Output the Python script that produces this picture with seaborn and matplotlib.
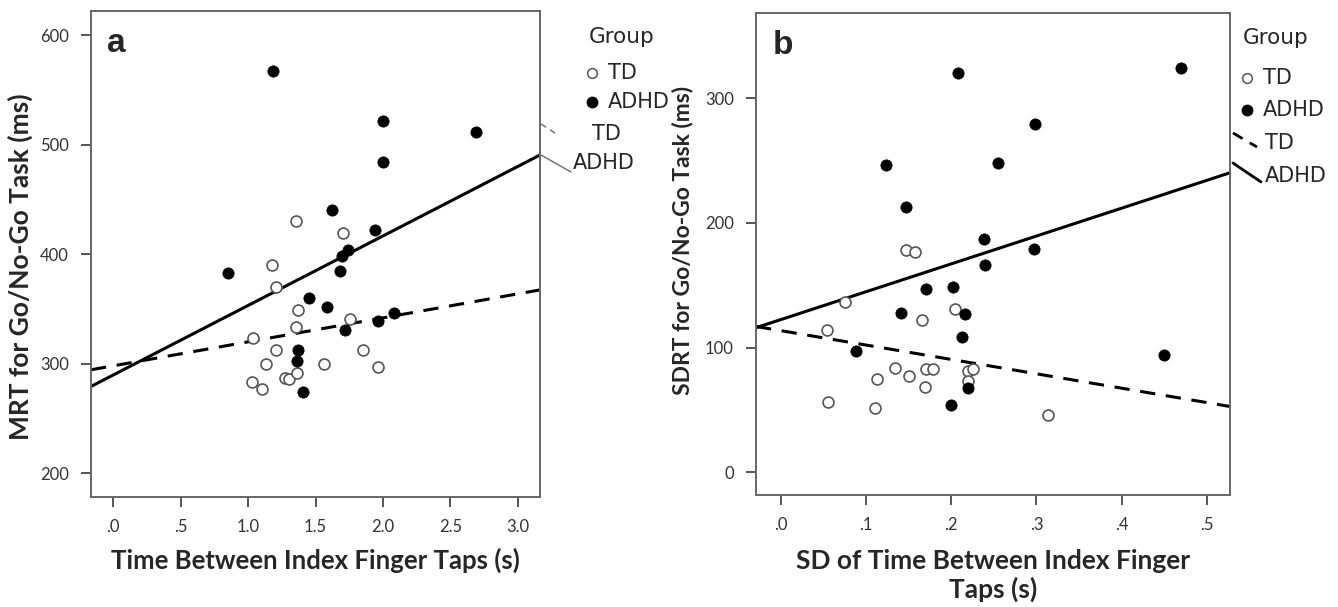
import numpy as np
import pandas as pd
import matplotlib
matplotlib.use('Agg')
import matplotlib.pyplot as plt
import seaborn as sns

# panel a: mean reaction time vs inter-tap interval
a_td_x = [1.04, 1.03, 1.105, 1.13, 1.175, 1.205, 1.205, 1.275, 1.30, 1.355, 1.36, 1.355, 1.37, 1.565, 1.706, 1.756, 1.85, 1.96]
a_td_y = [323.5, 283.7, 277.3, 300, 390, 370, 312.5, 287.4, 286, 430.6, 291.6, 333.5, 348.7, 300, 419, 340.6, 312.6, 297.4]
a_adhd_x = [0.849, 1.187, 1.373, 1.363, 1.407, 1.449, 1.588, 1.625, 1.682, 1.70, 1.744, 1.719, 1.94, 1.961, 2.003, 2.003, 2.085, 2.69]
a_adhd_y = [383, 567.4, 312.8, 302.6, 274.3, 359.6, 351.7, 440.3, 384.4, 398, 404, 330.8, 422, 339, 521.8, 484.1, 346.4, 511.8]
a_fit_x = [-0.165, 3.165]
a_fit_td = [294.5, 367.4]
a_fit_adhd = [279.3, 490.5]

# panel b: SD of reaction time vs SD of inter-tap interval
b_td_x = [0.1467, 0.1576, 0.0758, 0.2046, 0.1662, 0.0547, 0.1342, 0.1702, 0.1784, 0.1506, 0.113, 0.2202, 0.2261, 0.2195, 0.1694, 0.0552, 0.1107, 0.313]
b_td_y = [178.3, 176.5, 136.3, 130.7, 122.2, 113.9, 83.9, 82.9, 82.9, 77.2, 74.8, 81.2, 82.9, 73.2, 68.7, 56.6, 51.8, 46]
b_adhd_x = [0.2085, 0.1232, 0.147, 0.2554, 0.2386, 0.4695, 0.2985, 0.2973, 0.2401, 0.1702, 0.2019, 0.2163, 0.1416, 0.2132, 0.0884, 0.2202, 0.2003, 0.45]
b_adhd_y = [320.5, 246.5, 212.5, 247.8, 186.9, 324.5, 279.1, 178.9, 166.5, 147, 148.9, 126.7, 127.5, 108.3, 97.6, 67.4, 53.7, 94]
b_fit_x = [-0.029, 0.527]
b_fit_td = [117, 52.8]
b_fit_adhd = [116, 240.3]

a_xticks = [0, 0.5, 1.0, 1.5, 2.0, 2.5, 3.0]
a_xticklabels = ['.0', '.5', '1.0', '1.5', '2.0', '2.5', '3.0']
a_yticks = [200, 300, 400, 500, 600]
b_xticks = [0, 0.1, 0.2, 0.3, 0.4, 0.5]
b_xticklabels = ['.0', '.1', '.2', '.3', '.4', '.5']
b_yticks = [0, 100, 200, 300]

W, H = 1338, 607
fig = plt.figure(figsize=(W / 100, H / 100), dpi=100)
sns.set_style('white')
plt.rcParams['font.family'] = ['DejaVu Sans']


def fx(x, y):
    return x / W, 1 - y / H


def make_ax(left, top, right, bottom):
    return fig.add_axes([left / W, 1 - bottom / H, (right - left) / W, (bottom - top) / H])


ax_a = make_ax(91, 10.7, 540, 497)
ax_b = make_ax(756, 12.7, 1230, 495)


def draw_panel(ax, td_x, td_y, adhd_x, adhd_y, fit_x, fit_td, fit_adhd):
    td = pd.DataFrame({'x': td_x, 'y': td_y})
    adhd = pd.DataFrame({'x': adhd_x, 'y': adhd_y})
    sns.scatterplot(data=td, x='x', y='y', ax=ax, s=62, facecolor='white',
                    edgecolor='#555555', linewidth=1.2, zorder=3)
    sns.scatterplot(data=adhd, x='x', y='y', ax=ax, s=66, color='black',
                    edgecolor='black', linewidth=0.5, zorder=3)
    sns.lineplot(x=fit_x, y=fit_td, ax=ax, color='black', linewidth=2.2,
                 linestyle=(0, (5, 3.5)), estimator=None, sort=False, zorder=2)
    sns.lineplot(x=fit_x, y=fit_adhd, ax=ax, color='black', linewidth=2.2,
                 estimator=None, sort=False, zorder=2)
    ax.set_xlim(fit_x[0], fit_x[1])
    for s in ax.spines.values():
        s.set_color('#666666')
        s.set_linewidth(1.4)
    ax.tick_params(axis='both', direction='out', length=7, width=1.4, color='#555555',
                   labelsize=12, labelcolor='#333333', pad=9)
    ax.tick_params(axis='both', which='both', bottom=True, left=True)
    for t in ax.get_xticklabels() + ax.get_yticklabels():
        t.set_family(['Lato', 'DejaVu Sans'])


ax_a.set_xticks(a_xticks)
ax_a.set_xticklabels(a_xticklabels)
ax_a.set_yticks(a_yticks)
ax_b.set_xticks(b_xticks)
ax_b.set_xticklabels(b_xticklabels)
ax_b.set_yticks(b_yticks)

draw_panel(ax_a, a_td_x, a_td_y, a_adhd_x, a_adhd_y, a_fit_x, a_fit_td, a_fit_adhd)
draw_panel(ax_b, b_td_x, b_td_y, b_adhd_x, b_adhd_y, b_fit_x, b_fit_td, b_fit_adhd)

ax_a.set_ylim(178.4, 622.2)
ax_b.set_ylim(-18.2, 368.7)

lab = dict(fontweight='bold', family=['Lato', 'DejaVu Sans'])
ax_a.set_xlabel('Time Between Index Finger Taps (s)', fontsize=18.5, **lab)
ax_a.xaxis.set_label_coords(0.5, -0.105)
ax_a.set_ylabel('MRT for Go/No-Go Task (ms)', fontsize=19, **lab)
ax_a.yaxis.set_label_coords(-0.129, 0.473)
ax_b.set_xlabel('SD of Time Between Index Finger\nTaps (s)', fontsize=19, linespacing=1.18, **lab)
ax_b.xaxis.set_label_coords(0.5, -0.112)
ax_b.set_ylabel('SDRT for Go/No-Go Task (ms)', fontsize=16.5, **lab)
ax_b.yaxis.set_label_coords(-0.133, 0.527)

for ax, letter in [(ax_a, 'a'), (ax_b, 'b')]:
    ax.text(0.035, 0.965, letter, transform=ax.transAxes, fontsize=24, fontweight='bold',
            family=['Liberation Sans', 'DejaVu Sans'], va='top', ha='left')


def legend(gx, gy, mx, rows, leaders, lcolor, lw):
    tf = fig.transFigure
    fig.text(*fx(gx, gy), 'Group', fontsize=15.5, va='center', ha='left')
    (y1, y2) = rows
    fig.lines.append(plt.Line2D(*zip(fx(mx, y1)), transform=tf, marker='o', markersize=7,
                                markerfacecolor='white', markeredgecolor='#555555', markeredgewidth=1.1, linestyle='none'))
    fig.lines.append(plt.Line2D(*zip(fx(mx, y2)), transform=tf, marker='o', markersize=7.5,
                                color='black', linestyle='none'))
    fig.text(*fx(mx + 16, y1), 'TD', fontsize=15, va='center', ha='left')
    fig.text(*fx(mx + 16, y2), 'ADHD', fontsize=15, va='center', ha='left')
    for (x0, y0, x1, y1_, tx, ty, txt, ls) in leaders:
        p0 = fx(x0, y0)
        p1 = fx(x1, y1_)
        fig.lines.append(plt.Line2D([p0[0], p1[0]], [p0[1], p1[1]], transform=tf,
                                    color=lcolor, linewidth=lw, linestyle=ls))
        fig.text(*fx(tx, ty), txt, fontsize=15, va='center', ha='left')


legend(589, 37, 592, (73, 102),
       [(541, 124, 558, 135, 592, 134, 'TD', (0, (4, 3))),
        (541, 155, 571, 172, 573, 163, 'ADHD', '-')], '#777777', 1.1)
legend(1243, 38, 1247, (78, 110),
       [(1233, 133, 1257, 147, 1265, 143, 'TD', (0, (4, 3))),
        (1233, 163, 1261, 182, 1265, 176, 'ADHD', '-')], 'black', 2.0)

fig.savefig('out.png', dpi=100)
